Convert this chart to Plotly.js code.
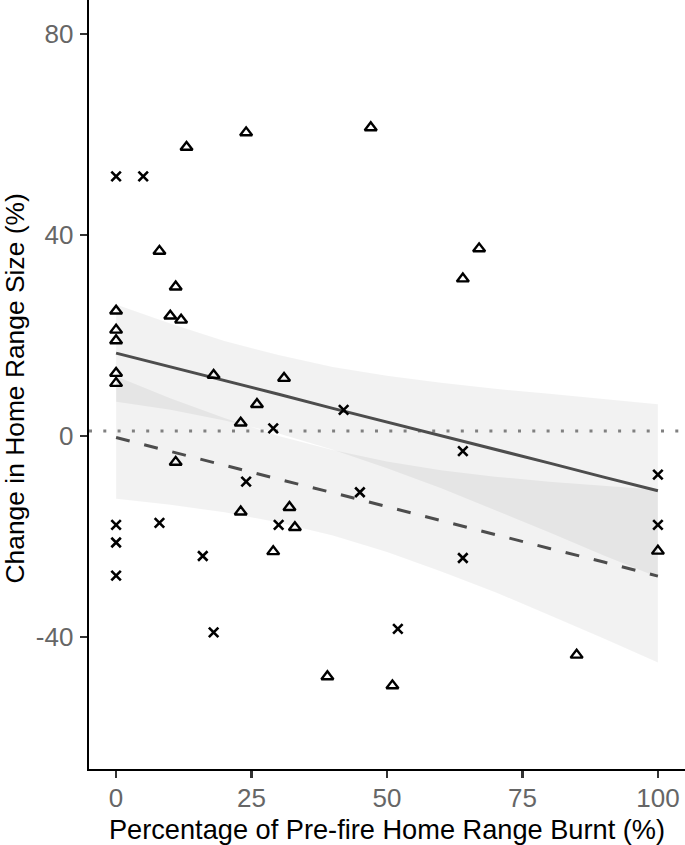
<!DOCTYPE html>
<html>
<head>
<meta charset="utf-8">
<script src="https://cdn.plot.ly/plotly-3.0.1.min.js"></script>
<style>
html,body{margin:0;padding:0;background:#fff;}
#chart{width:685px;height:845px;}
</style>
</head>
<body>
<div id="chart"></div>
<script>
// Points: crosses
const crossX = [0, 5, 29, 24, 0, 8, 0, 30, 16, 0, 42, 64, 45, 100, 100, 64, 18, 52];
const crossY = [51.7, 51.7, 1.5, -9.1, -17.7, -17.3, -21.2, -17.7, -23.9, -27.8, 5.2, -3.0, -11.2, -7.7, -17.7, -24.3, -39.1, -38.4];

// Points: triangles
const triX = [13, 24, 47, 8, 67, 64, 11, 0, 10, 12, 0, 0, 0, 0, 18, 31, 26, 23, 11, 23, 32, 33, 29, 100, 39, 51, 85];
const triY = [57.5, 60.4, 61.4, 36.8, 37.3, 31.3, 29.7, 24.9, 23.9, 23.1, 21.1, 19.0, 12.5, 10.5, 12.1, 11.5, 6.3, 2.6, -5.2, -15.1, -14.2, -18.2, -23.0, -22.9, -47.9, -49.7, -43.6];

// Fitted lines and confidence ribbons (read at these x positions)
const fitX = [0, 10, 20, 30, 40, 50, 60, 70, 80, 90, 100];
const solidFit   = [16.5, 13.8, 11.0, 8.3, 5.5, 2.8, 0.1, -2.7, -5.4, -8.2, -10.9];
const solidUpper = [26.2, 22.4, 18.9, 16.1, 13.75, 12.0, 10.6, 9.4, 8.4, 7.4, 6.3];
const solidLower = [6.8, 5.2, 3.1, 0.5, -2.75, -6.4, -10.4, -14.8, -19.2, -23.8, -28.1];
const dashFit    = [-0.3, -3.1, -5.8, -8.6, -11.3, -14.1, -16.9, -19.6, -22.4, -25.1, -27.9];
const dashUpper  = [11.9, 7.5, 3.6, 0.0, -2.8, -5.1, -6.8, -8.1, -9.1, -9.9, -10.7];
const dashLower  = [-12.5, -13.7, -15.2, -17.2, -19.8, -23.1, -27.0, -31.1, -35.7, -40.3, -45.1];

// Reference line
const refY = 1;

// Axis ticks
const xTicks = [0, 25, 50, 75, 100];
const yTicks = [-40, 0, 40, 80];

const xTitle = 'Percentage of Pre-fire Home Range Burnt (%)';
const yTitle = 'Change in Home Range Size (%)';

const ribbonFill = 'rgba(0,0,0,0.05)';
const lineCol = '#4d4d4d';

const traces = [
  {x: fitX, y: solidLower, mode: 'lines', line: {width: 0, color: 'rgba(0,0,0,0)'}, hoverinfo: 'skip', showlegend: false},
  {x: fitX, y: solidUpper, mode: 'lines', line: {width: 0, color: 'rgba(0,0,0,0)'}, fill: 'tonexty', fillcolor: ribbonFill, hoverinfo: 'skip', showlegend: false},
  {x: fitX, y: dashLower, mode: 'lines', line: {width: 0, color: 'rgba(0,0,0,0)'}, hoverinfo: 'skip', showlegend: false},
  {x: fitX, y: dashUpper, mode: 'lines', line: {width: 0, color: 'rgba(0,0,0,0)'}, fill: 'tonexty', fillcolor: ribbonFill, hoverinfo: 'skip', showlegend: false},
  {x: [-5, 105], y: [refY, refY], mode: 'lines', line: {color: '#808080', width: 3, dash: '3px,11.3px'}, showlegend: false},
  {x: fitX, y: solidFit, mode: 'lines', line: {color: lineCol, width: 3}, showlegend: false},
  {x: fitX, y: dashFit, mode: 'lines', line: {color: lineCol, width: 3, dash: '14px,15px'}, showlegend: false},
  {x: crossX, y: crossY, mode: 'markers', marker: {symbol: 'x-thin-open', size: 9.5, color: '#000', line: {color: '#000', width: 2.6}}, showlegend: false},
  {x: triX, y: triY, mode: 'markers', marker: {symbol: 'triangle-up-open', size: 10.5, color: '#000', line: {color: '#000', width: 2.4}}, showlegend: false}
];

const layout = {
  width: 685, height: 845,
  margin: {l: 89, r: 0, t: 0, b: 76},
  paper_bgcolor: '#fff', plot_bgcolor: '#fff',
  font: {family: '"Liberation Sans", Arial, sans-serif', color: '#000'},
  showlegend: false,
  xaxis: {
    range: [-5, 105], tickvals: xTicks, ticktext: xTicks.map(String),
    showgrid: false, zeroline: false, showline: true, linecolor: '#000', linewidth: 2.4,
    ticks: 'outside', ticklen: 7, tickwidth: 2.2, tickcolor: '#333',
    tickfont: {size: 26, color: '#666'}, ticklabelstandoff: -3,
    title: {text: xTitle, font: {size: 27.2, color: '#000'}, standoff: 14}
  },
  yaxis: {
    range: [-66.3, 86.8], tickvals: yTicks, ticktext: yTicks.map(String),
    showgrid: false, zeroline: false, showline: true, linecolor: '#000', linewidth: 2.4,
    ticks: 'outside', ticklen: 7, tickwidth: 2.2, tickcolor: '#333',
    tickfont: {size: 26, color: '#666'}, ticklabelstandoff: 1
  },
  annotations: [{
    text: yTitle, textangle: -90, showarrow: false,
    xref: 'paper', yref: 'paper', x: 0, y: 0.5, xanchor: 'center', yanchor: 'middle',
    xshift: -75, yshift: -4,
    font: {size: 26.4, color: '#000'}
  }]
};

Plotly.newPlot('chart', traces, layout, {staticPlot: true, displayModeBar: false});
</script>
</body>
</html>
